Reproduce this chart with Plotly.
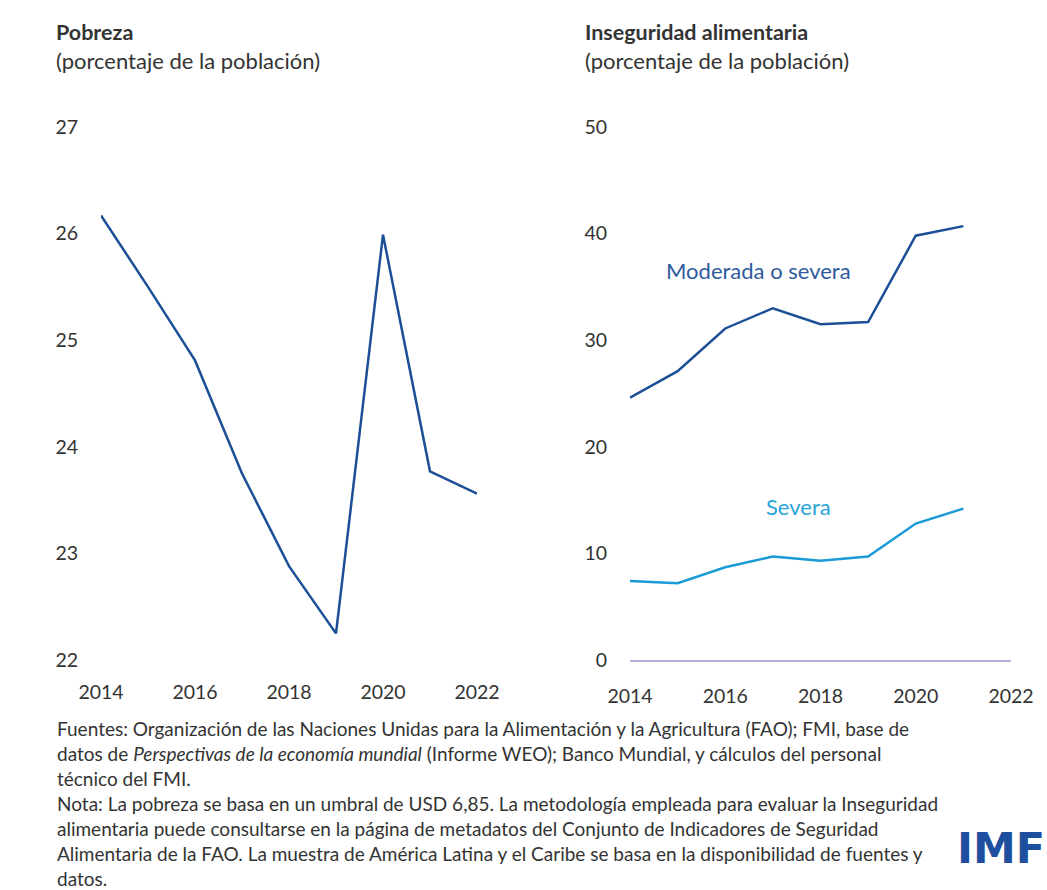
import plotly.graph_objects as go

W, H = 1047, 890

years_pov = [2014, 2015, 2016, 2017, 2018, 2019, 2020, 2021, 2022]
pobreza = [26.17, 25.5, 24.81, 23.75, 22.88, 22.25, 25.99, 23.77, 23.56]

years_fi = [2014, 2015, 2016, 2017, 2018, 2019, 2020, 2021]
moderada_severa = [24.6, 27.1, 31.1, 33.0, 31.5, 31.7, 39.8, 40.7]
severa = [7.4, 7.2, 8.7, 9.7, 9.3, 9.7, 12.8, 14.2]

x_ticks = [2014, 2016, 2018, 2020, 2022]
y_ticks_pov = [22, 23, 24, 25, 26, 27]
y_ticks_fi = [0, 10, 20, 30, 40, 50]

NAVY = "#1c4f96"
CYAN = "#1a9ad6"
FONT = "Lato"
TXT = "#333333"

def px(x):
    return x / W

def py(y):
    return 1 - y / H

fig = go.Figure()
fig.add_trace(go.Scatter(x=years_pov, y=pobreza, mode="lines",
                         line=dict(color=NAVY, width=2.5), xaxis="x", yaxis="y",
                         showlegend=False, hoverinfo="skip"))
fig.add_trace(go.Scatter(x=years_fi, y=moderada_severa, mode="lines",
                         line=dict(color=NAVY, width=2.5), xaxis="x2", yaxis="y2",
                         showlegend=False))
fig.add_trace(go.Scatter(x=years_fi, y=severa, mode="lines",
                         line=dict(color=CYAN, width=2.5), xaxis="x2", yaxis="y2",
                         showlegend=False))

ydom = [py(660), py(127)]
tickfont = dict(family=FONT, size=19.5, color=TXT)

common_x = dict(range=[2014, 2022], tickvals=x_ticks, showgrid=False, zeroline=False,
                ticks="", ticklabelstandoff=18, tickfont=tickfont, automargin=False)
common_y = dict(showgrid=False, zeroline=False, ticks="", ticklabelstandoff=22,
                tickfont=tickfont, automargin=False)

fig.update_layout(
    width=W, height=H,
    margin=dict(l=0, r=0, t=0, b=0, autoexpand=False),
    paper_bgcolor="white", plot_bgcolor="white",
    font=dict(family=FONT, color=TXT),
    xaxis=dict(domain=[px(101), px(477)], anchor="y", showline=False, **common_x),
    yaxis=dict(domain=ydom, anchor="x", range=[22, 27], tickvals=y_ticks_pov, **common_y),
    xaxis2=dict(domain=[px(630), px(1011)], anchor="y2", showline=True,
                linecolor="#b5afe0", linewidth=2, **common_x),
    yaxis2=dict(domain=ydom, anchor="x2", range=[0, 50], tickvals=y_ticks_fi, **common_y),
)

ann = []
def text(x, y, s, size=17, color=TXT, xanchor="left", family=FONT):
    ann.append(dict(x=px(x), y=py(y), xref="paper", yref="paper", text=s,
                    showarrow=False, xanchor=xanchor, yanchor="middle",
                    font=dict(family=family, size=size, color=color)))

text(54, 32, "<b>Pobreza</b>", size=21.5)
text(54, 61, "(porcentaje de la población)", size=22)
text(583, 32, "<b>Inseguridad alimentaria</b>", size=21.5)
text(583, 61, "(porcentaje de la población)", size=22)

text(664, 270, "Moderada o severa", size=22, color="#2e5a9c")
text(764, 506, "Severa", size=22, color="#2aa3d8")

notes = [
    "Fuentes: Organización de las Naciones Unidas para la Alimentación y la Agricultura (FAO); FMI, base de",
    "datos de <i>Perspectivas de la economía mundial</i> (Informe WEO); Banco Mundial, y cálculos del personal",
    "técnico del FMI.",
    "Nota: La pobreza se basa en un umbral de USD 6,85. La metodología empleada para evaluar la Inseguridad",
    "alimentaria puede consultarse en la página de metadatos del Conjunto de Indicadores de Seguridad",
    "Alimentaria de la FAO. La muestra de América Latina y el Caribe se basa en la disponibilidad de fuentes y",
    "datos.",
]
note_y = [728, 753, 778, 803, 828, 853, 878]
for s, y in zip(notes, note_y):
    text(55, y, s, size=19)

text(1047, 848, "<b>IMF</b>", size=43, color="#1d4f9e", xanchor="right",
     family="DejaVu Sans")

fig.update_layout(annotations=ann)
fig.write_html("out.html")
